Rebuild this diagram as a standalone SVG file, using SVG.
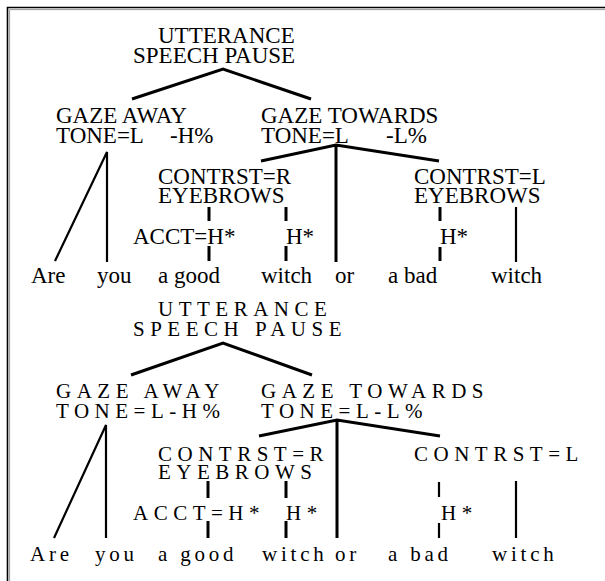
<svg xmlns="http://www.w3.org/2000/svg" width="605" height="581" viewBox="0 0 605 581">
<style>
text{font-family:"Liberation Serif","Times New Roman",serif;fill:#000}
.a{font-size:23px}
.b{font-size:21px;letter-spacing:5.5px}
.w{font-size:21px;letter-spacing:3.8px}
.e{stroke:#000;stroke-width:3;fill:none;stroke-linecap:butt}
.t{stroke:#000;stroke-width:2.2;fill:none}
</style>
<rect width="605" height="581" fill="#fff"/>
<g id="frame">
<path d="M7.5 581V7.5H605" fill="none" stroke="#000" stroke-width="1.6"/>
<path d="M9.6 581V9.6H605" fill="none" stroke="#999" stroke-width="1"/>
</g>
<g id="connectors">
<path class="e" d="M132 99L223 69L311 99"/>
<path class="e" d="M261 161L336 145L439 161M336 145V262"/>
<path class="t" d="M55 261L107 152V262"/>
<path class="e" d="M209 207V221M286 207V221M440 207V221M209 246V261M286 246V261M440 247V261"/>
<path class="t" d="M516 207V262"/>
<path class="e" d="M131 375L223 343L312 375"/>
<path class="e" d="M259 436L337 420L440 436M337 420V538"/>
<path class="t" d="M54 538L106 425V538"/>
<path class="e" d="M208 481V498M286 481V498M208 521V538M286 521V538"/>
<path class="t" d="M439 482V497M439 523V538M516 481V538"/>
</g>
<g id="top-utterance"><text class="a" x="158" y="43">UTTERANCE</text><text class="a" x="133" y="63">SPEECH PAUSE</text></g>
<g id="top-gaze-away"><text class="a" x="56" y="123">GAZE AWAY</text><text class="a" x="56" y="143">TONE=L<tspan x="170">-H%</tspan></text></g>
<g id="top-gaze-towards"><text class="a" x="261" y="123">GAZE TOWARDS</text><text class="a" x="261" y="143">TONE=L<tspan x="386">-L%</tspan></text></g>
<g id="top-contrst-r"><text class="a" x="158" y="184">CONTRST=R</text><text class="a" x="158" y="203">EYEBROWS</text></g>
<g id="top-contrst-l"><text class="a" x="414" y="184">CONTRST=L</text><text class="a" x="414" y="203">EYEBROWS</text></g>
<g id="top-acct"><text class="a" x="133" y="244">ACCT=H*</text></g>
<g id="top-h1"><text class="a" x="286" y="244">H*</text></g>
<g id="top-h2"><text class="a" x="440" y="244">H*</text></g>
<g id="top-words"><text class="a" y="283"><tspan x="31">Are</tspan><tspan x="97">you</tspan><tspan x="158">a good</tspan><tspan x="261">witch</tspan><tspan x="335">or</tspan><tspan x="388">a bad</tspan><tspan x="491">witch</tspan></text></g>
<g id="bot-utterance"><text class="b" x="158" y="316">UTTERANCE</text><text class="b" x="133" y="336">SPEECH PAUSE</text></g>
<g id="bot-gaze-away"><text class="b" x="56" y="398">GAZE AWAY</text><text class="b" x="56" y="418">TONE=L-H%</text></g>
<g id="bot-gaze-towards"><text class="b" x="261" y="398">GAZE TOWARDS</text><text class="b" x="261" y="418">TONE=L-L%</text></g>
<g id="bot-contrst-r"><text class="b" x="158" y="461">CONTRST=R</text><text class="b" x="158" y="479">EYEBROWS</text></g>
<g id="bot-contrst-l"><text class="b" x="414" y="461">CONTRST=L</text></g>
<g id="bot-acct"><text class="b" x="133" y="520">ACCT=H*</text></g>
<g id="bot-h1"><text class="b" x="286" y="520">H*</text></g>
<g id="bot-h2"><text class="b" x="441" y="520">H*</text></g>
<g id="bot-words"><text class="w" y="561"><tspan x="30">Are</tspan><tspan x="95">you</tspan><tspan x="158">a good</tspan><tspan x="262">witch</tspan><tspan x="335">or</tspan><tspan x="388">a bad</tspan><tspan x="492">witch</tspan></text></g>
</svg>
